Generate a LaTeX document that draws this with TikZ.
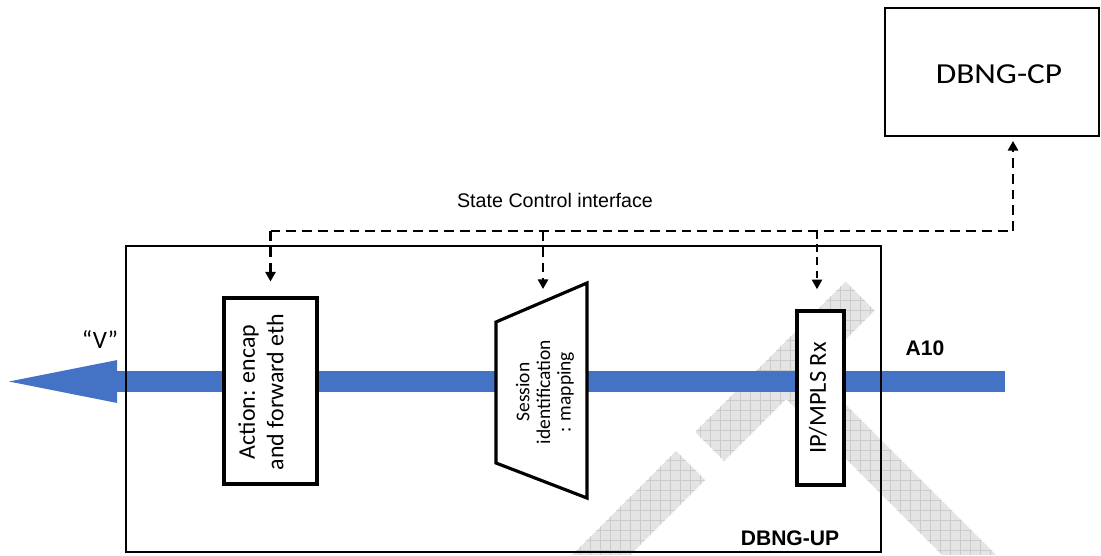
\documentclass[tikz,border=0pt]{standalone}
\usepackage{fontspec}
\setmainfont{Carlito}
\newfontfamily\labfont{Liberation Sans}
\newfontfamily\cpfont[FakeStretch=1.15]{Carlito}
\usetikzlibrary{arrows.meta}

\definecolor{flowblue}{HTML}{4472C4}
\definecolor{wmfill}{HTML}{E4E4E4}
\definecolor{wmline}{HTML}{CBCBCB}

\begin{document}
\begin{tikzpicture}[x=0.02cm,y=-0.02cm,
  boxframe/.style={draw=black, line width=1.1pt, rectangle, inner sep=0pt},
  fnbox/.style={draw=black, fill=white, line width=1.8pt, rectangle, inner sep=0pt, rotate=90},
  fntext/.style={rotate=90, align=center, inner sep=0pt},
  ctl/.style={line width=1.3pt, dash pattern=on 5.6pt off 3.4pt},
  ctlthin/.style={line width=1pt, dash pattern=on 4.5pt off 3pt},
  ctltip/.style={-{Triangle[width=5.8pt,length=5.5pt]}},
  boldlab/.style={font=\labfont\bfseries\fontsize{12}{14}\selectfont, inner sep=0pt}]

\useasboundingbox (0,0) rectangle (1101,555);

% faded hatched watermark strokes in the background
\begin{scope}
  \clip (0,0) rectangle (1101,555);
  \clip (845.5,281.5) -- (874.5,310.5) -- (813,372) -- (1011,570) -- (957,570)
        -- (786,399) -- (724,461) -- (695,432) -- cycle
        (676,451) -- (705,480) -- (615,570) -- (557,570) -- cycle;
  \fill[wmfill] (500,250) rectangle (1101,555);
  \foreach \g in {500,510,...,1100} \draw[wmline, line width=0.4pt] (\g,250) -- (\g,555);
  \foreach \g in {250,260,...,550} \draw[wmline, line width=0.4pt] (500,\g) -- (1101,\g);
\end{scope}

% user-plane traffic flow: shaft plus a wide arrow head
\coordinate (a10in) at (1005,381.5);
\coordinate (headbase) at (117,381.5);
\coordinate (vout) at (9,381.5);
\draw[flowblue, line width=12pt] (a10in) -- (headbase);
\fill[flowblue] ([yshift=12.2pt]headbase) -- (vout) -- ([yshift=-12.2pt]headbase) -- cycle;

% user plane and control plane boxes
\node[boxframe, minimum width=15.1cm, minimum height=6.12cm] (up) at (503.5,399) {};
\node[boxframe, minimum width=4.28cm, minimum height=2.56cm] (cp) at (992,72) {};
\node[anchor=base, inner sep=0pt, font=\cpfont\fontsize{16.5}{18}\selectfont] (cplab) at (999,83) {DBNG-CP};

% processing stages inside the user plane
\node[fnbox, minimum width=3.72cm, minimum height=1.86cm] (act) at (270.5,391) {};
\node[fntext, font=\fontsize{13.6}{16.2}\selectfont] (acttxt) at (261,392)
  {Action: encap\\and forward eth};
\draw[line width=1.8pt, fill=white, line join=miter]
  (496,322) -- (587,283) -- (587,498) -- (496,463) -- cycle;
\coordinate (sesTop) at (543,302);
\node[fntext, font=\fontsize{11.1}{11.7}\selectfont] (ses) at (545,392)
  {Session\\identification\\: mapping};
\node[fnbox, minimum width=3.48cm, minimum height=0.94cm] (ip) at (820.5,398) {};
\node[fntext, font=\fontsize{13.9}{16}\selectfont] (iptxt) at (818,398) {IP/MPLS Rx};

% labels
\node[boldlab, anchor=base] (uplab) at (790,545) {DBNG-UP};
\node[boldlab, anchor=base] (a10) at (925,355) {A10};
\node[anchor=base, inner sep=0pt, font=\labfont\fontsize{11.2}{13}\selectfont] (sci) at (555,207) {State Control interface};
\node[anchor=base, inner sep=0pt, font=\fontsize{14.2}{16}\selectfont] (vlab) at (100,348) {“V”};

% state control interface
\coordinate (hubR) at (1013,231);
\coordinate (hubL) at (act.east |- hubR);
\coordinate (hubS) at (sesTop |- hubR);
\coordinate (hubI) at (817,231);
\draw[ctl] (hubL) -- (hubR);
\draw[ctl, ctltip, shorten >=2.3pt] (hubR) -- (hubR |- cp.south);
\draw[ctl, ctltip, shorten >=8.5pt] (hubL) -- (act.east);
\draw[ctl, ctltip, shorten >=7.4pt] (hubS) -- (sesTop);
\draw[ctlthin, ctltip, shorten >=11.5pt] (hubI) -- (hubI |- ip.east);
\end{tikzpicture}
\end{document}
